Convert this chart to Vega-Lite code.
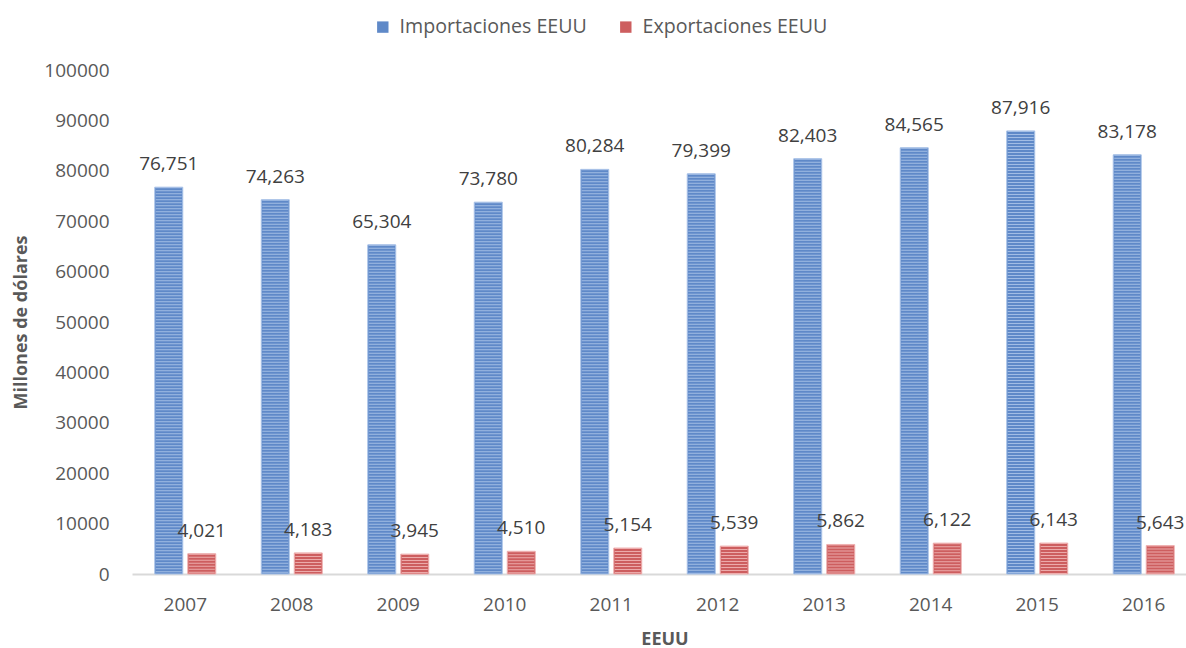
{
  "$schema": "https://vega.github.io/schema/vega-lite/v6.json",
  "width": 1054,
  "height": 504,
  "autosize": {"type": "none"},
  "padding": {"left": 132, "top": 70, "right": 0, "bottom": 74},
  "background": "white",
  "config": {
    "view": {"stroke": null},
    "font": "Open Sans",
    "axis": {"labelFont": "Open Sans", "titleFont": "Open Sans", "labelColor": "#595959", "titleColor": "#595959", "labelFontSize": 19, "titleFontSize": 18, "grid": false, "ticks": false}
  },
  "data": {
    "values": [
      {"year": "2007", "serie": "Importaciones EEUU", "value": 76751},
      {"year": "2007", "serie": "Exportaciones EEUU", "value": 4021},
      {"year": "2008", "serie": "Importaciones EEUU", "value": 74263},
      {"year": "2008", "serie": "Exportaciones EEUU", "value": 4183},
      {"year": "2009", "serie": "Importaciones EEUU", "value": 65304},
      {"year": "2009", "serie": "Exportaciones EEUU", "value": 3945},
      {"year": "2010", "serie": "Importaciones EEUU", "value": 73780},
      {"year": "2010", "serie": "Exportaciones EEUU", "value": 4510},
      {"year": "2011", "serie": "Importaciones EEUU", "value": 80284},
      {"year": "2011", "serie": "Exportaciones EEUU", "value": 5154},
      {"year": "2012", "serie": "Importaciones EEUU", "value": 79399},
      {"year": "2012", "serie": "Exportaciones EEUU", "value": 5539},
      {"year": "2013", "serie": "Importaciones EEUU", "value": 82403},
      {"year": "2013", "serie": "Exportaciones EEUU", "value": 5862},
      {"year": "2014", "serie": "Importaciones EEUU", "value": 84565},
      {"year": "2014", "serie": "Exportaciones EEUU", "value": 6122},
      {"year": "2015", "serie": "Importaciones EEUU", "value": 87916},
      {"year": "2015", "serie": "Exportaciones EEUU", "value": 6143},
      {"year": "2016", "serie": "Importaciones EEUU", "value": 83178},
      {"year": "2016", "serie": "Exportaciones EEUU", "value": 5643}
    ]
  },
  "encoding": {
    "x": {
      "field": "year", "type": "nominal",
      "scale": {"range": [0, 1065], "paddingInner": 0.427, "paddingOuter": 0.2137},
      "axis": {"title": "EEUU", "titleFontWeight": "bold", "labelAngle": 0, "domainColor": "#d9d9d9", "domainWidth": 2, "labelPadding": 21, "titlePadding": 16}
    },
    "xOffset": {
      "field": "serie", "type": "nominal",
      "scale": {"domain": ["Importaciones EEUU", "Exportaciones EEUU"], "paddingInner": 0.1515, "paddingOuter": 0}
    },
    "y": {
      "field": "value", "type": "quantitative",
      "scale": {"domain": [0, 100000], "nice": false},
      "axis": {"title": "Millones de dólares", "titleFontWeight": "bold", "domain": false, "values": [0, 10000, 20000, 30000, 40000, 50000, 60000, 70000, 80000, 90000, 100000], "format": "d", "labelPadding": 23, "titlePadding": 13}
    }
  },
  "layer": [
    {
      "mark": {"type": "bar", "strokeWidth": 1},
      "encoding": {
        "color": {
          "field": "serie", "type": "nominal",
          "scale": {"domain": ["Importaciones EEUU", "Exportaciones EEUU"], "range": ["#5f89c8", "#cd5e5f"]},
          "legend": {"title": null, "orient": "none", "direction": "horizontal", "legendX": 241, "legendY": -53, "symbolType": "square", "symbolSize": 130, "symbolStrokeWidth": 0, "labelFont": "Open Sans", "labelFontSize": 19.6, "labelColor": "#595959", "labelLimit": 0, "columnPadding": 29, "labelOffset": 7}
        },
        "stroke": {
          "field": "serie", "type": "nominal",
          "scale": {"domain": ["Importaciones EEUU", "Exportaciones EEUU"], "range": ["#aac3e8", "#efb2b2"]},
          "legend": null
        }
      }
    },
    {
      "mark": {"type": "rule", "strokeWidth": 26, "strokeDash": [1, 2], "strokeCap": "butt", "opacity": 0.9},
      "encoding": {
        "y2": {"datum": 0},
        "stroke": {
          "field": "serie", "type": "nominal",
          "legend": null
        }
      }
    },
    {
      "mark": {"type": "text", "baseline": "bottom", "dy": -13, "fontSize": 19, "color": "#404040", "font": "Open Sans"},
      "encoding": {
        "text": {"field": "value", "type": "quantitative", "format": ","}
      }
    }
  ]
}
